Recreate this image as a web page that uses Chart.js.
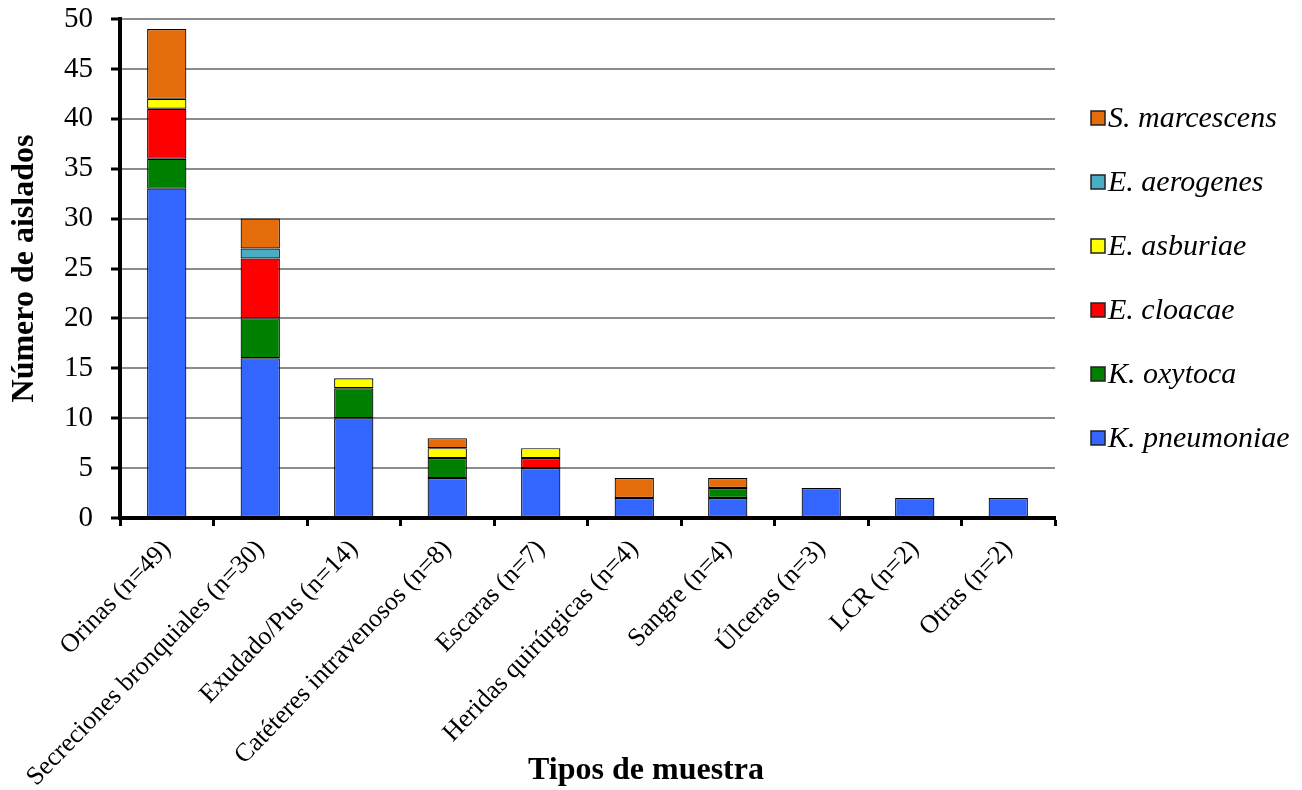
<!DOCTYPE html>
<html>
<head>
<meta charset="utf-8">
<script src="https://cdn.jsdelivr.net/npm/chart.js@4.4.1/dist/chart.umd.min.js"></script>
<style>
  html, body { margin: 0; padding: 0; background: #ffffff; }
  #wrap { width: 1302px; height: 790px; position: relative; }
</style>
</head>
<body>
<div id="wrap"><canvas id="c" width="1302" height="790"></canvas></div>
<script>
// Sample types (x axis)
const categories = [
  'Orinas (n=49)',
  'Secreciones bronquiales (n=30)',
  'Exudado/Pus (n=14)',
  'Catéteres intravenosos (n=8)',
  'Escaras (n=7)',
  'Heridas quirúrgicas (n=4)',
  'Sangre (n=4)',
  'Úlceras (n=3)',
  'LCR (n=2)',
  'Otras (n=2)'
];

// Isolates per species, stacked bottom to top (null = none)
const kPneumoniae  = [33, 16, 10, 4, 5, 2, 2, 3, 2, 2];
const kOxytoca     = [3, 4, 3, 2, null, null, 1, null, null, null];
const eCloacae     = [5, 6, null, null, 1, null, null, null, null, null];
const eAsburiae    = [1, null, 1, 1, 1, null, null, null, null, null];
const eAerogenes   = [null, 1, null, null, null, null, null, null, null, null];
const sMarcescens  = [7, 3, null, 1, null, 2, 1, null, null, null];

const yTicks = [0, 5, 10, 15, 20, 25, 30, 35, 40, 45, 50];

const serif = "'Liberation Serif', 'Times New Roman', serif";

const series = [
  { label: 'K. pneumoniae', data: kPneumoniae, color: '#3366FF' },
  { label: 'K. oxytoca',    data: kOxytoca,    color: '#008000' },
  { label: 'E. cloacae',    data: eCloacae,    color: '#FF0000' },
  { label: 'E. asburiae',   data: eAsburiae,   color: '#FFFF00' },
  { label: 'E. aerogenes',  data: eAerogenes,  color: '#4BACC6' },
  { label: 'S. marcescens', data: sMarcescens, color: '#E46C0A' }
];

// Axis title below the category labels, centred on the page
const xTitlePlugin = {
  id: 'xTitle',
  afterDraw(chart) {
    const ctx = chart.ctx;
    ctx.save();
    ctx.font = "bold 32px " + serif;
    ctx.fillStyle = '#000';
    ctx.textAlign = 'center';
    ctx.textBaseline = 'middle';
    ctx.fillText('Tipos de muestra', 646, 771);
    ctx.restore();
  }
};

// Series key to the right of the plot, last series on top
const sideLegendPlugin = {
  id: 'sideLegend',
  afterDraw(chart) {
    const ctx = chart.ctx;
    const sets = chart.data.datasets.slice().reverse();
    const x0 = 1091, y0 = 118, step = 64, box = 14;
    ctx.save();
    ctx.font = "italic 30px " + serif;
    ctx.textBaseline = 'middle';
    ctx.textAlign = 'left';
    sets.forEach((ds, i) => {
      const y = y0 + i * step;
      ctx.fillStyle = ds.backgroundColor;
      ctx.fillRect(x0, y - box / 2, box, box);
      ctx.strokeStyle = '#222';
      ctx.lineWidth = 1.5;
      ctx.strokeRect(x0, y - box / 2, box, box);
      ctx.fillStyle = '#000';
      ctx.fillText(ds.label, x0 + box + 3, y + 1);
    });
    ctx.restore();
  }
};

new Chart(document.getElementById('c'), {
  type: 'bar',
  data: {
    labels: categories,
    datasets: series.map(s => ({
      label: s.label,
      data: s.data,
      backgroundColor: s.color,
      borderColor: '#000000',
      borderWidth: 1.2,
      borderSkipped: false,
      barPercentage: 0.42,
      categoryPercentage: 1.0
    }))
  },
  options: {
    responsive: false,
    animation: false,
    devicePixelRatio: 1,
    layout: { padding: { top: 0, right: 247, left: 0, bottom: 0 } },
    plugins: {
      tooltip: { enabled: false },
      legend: { display: false }
    },
    scales: {
      x: {
        stacked: true,
        afterFit(axis) { axis.height = 272; },
        border: { display: true, color: '#000', width: 4 },
        grid: {
          display: true,
          drawOnChartArea: false,
          drawTicks: true,
          tickLength: 8,
          tickColor: '#000',
          tickWidth: 3,
          offset: true
        },
        ticks: {
          autoSkip: false,
          minRotation: 46,
          maxRotation: 46,
          color: '#000',
          padding: 8,
          font: { family: serif, size: 26 }
        }
      },
      y: {
        stacked: true,
        min: 0,
        max: 50,
        afterFit(axis) { axis.width = 120; axis.paddingTop = 19; },
        afterBuildTicks(axis) { axis.ticks = yTicks.map(v => ({ value: v })); },
        border: { display: true, color: '#000', width: 4 },
        grid: {
          color: '#8c8c8c',
          lineWidth: 2,
          drawTicks: true,
          tickLength: 9,
          tickColor: '#000',
          tickWidth: 3
        },
        ticks: {
          color: '#000',
          padding: 18,
          font: { family: serif, size: 29 }
        },
        title: {
          display: true,
          text: 'Número de aislados',
          color: '#000',
          font: { family: serif, size: 32, weight: 'bold' },
          padding: { top: 6, bottom: 0 }
        }
      }
    }
  },
  plugins: [xTitlePlugin, sideLegendPlugin]
});
</script>
</body>
</html>
